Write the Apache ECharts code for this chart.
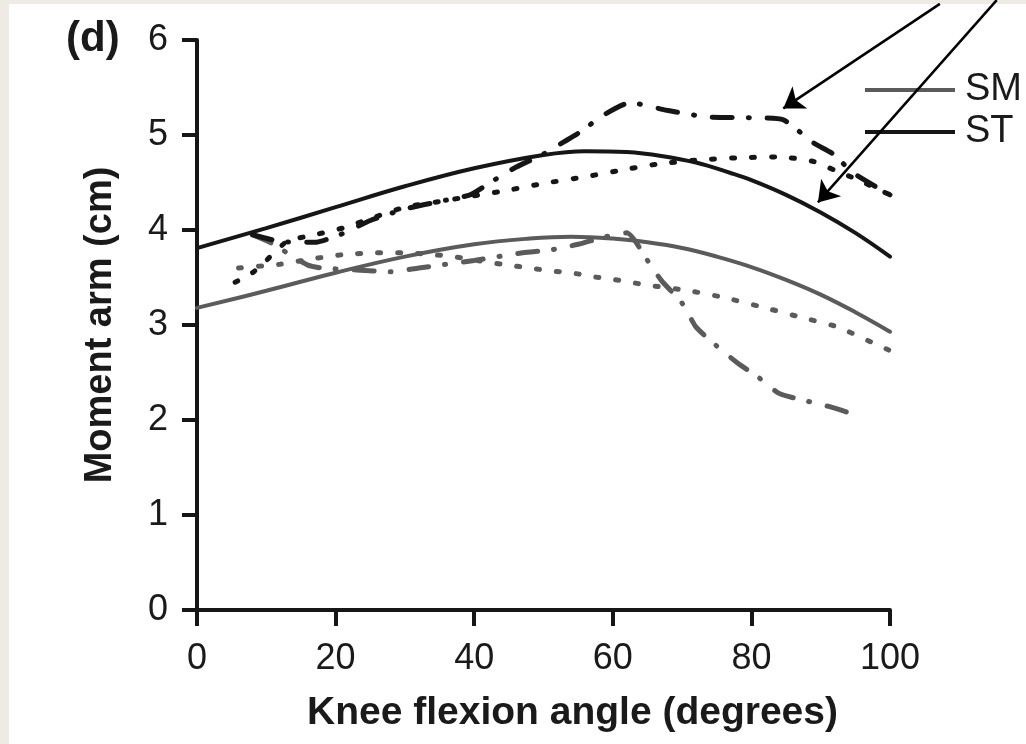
<!DOCTYPE html>
<html>
<head>
<meta charset="utf-8">
<script src="https://cdn.jsdelivr.net/npm/echarts@6/dist/echarts.min.js"></script>
<style>
html, body { margin: 0; padding: 0; background: #eeebe4; }
#paper { position: absolute; left: 9px; top: 4px; width: 1017px; height: 740px; background: #fff; }
#chart { position: absolute; left: 0; top: 0; width: 1026px; height: 744px; }
</style>
</head>
<body>
<div id="paper"></div>
<div id="chart"></div>
<script>
// knee flexion angle (deg) vs moment arm (cm)
const smFit = [[0, 3.18], [10, 3.36], [20, 3.55], [30, 3.72], [40, 3.85], [48, 3.91], [54, 3.93],
    [60, 3.91], [65, 3.87], [70, 3.81], [75, 3.72], [80, 3.61], [85, 3.475], [90, 3.32], [95, 3.135], [100, 2.93]];
const stFit = [[0, 3.81], [10, 4.02], [20, 4.24], [30, 4.46], [40, 4.65], [50, 4.79], [56, 4.83],
    [62, 4.82], [67, 4.78], [72, 4.71], [77, 4.6], [80, 4.525], [85, 4.37], [90, 4.185], [95, 3.97], [100, 3.72]];
const stDashDot = [[8, 3.95], [12, 3.88], [17, 3.87], [20.6, 3.95], [25, 4.1], [30, 4.22], [35, 4.3],
    [39.4, 4.37], [42.3, 4.5], [46, 4.66], [50, 4.8], [53, 4.93], [55.7, 5.05], [58.2, 5.19], [62.5, 5.34],
    [67.8, 5.26], [73.6, 5.19], [81, 5.18], [84.6, 5.16], [88.9, 4.92], [91.8, 4.8], [94.7, 4.6], [100, 4.37]];
const stDotted = [[5.5, 3.45], [8, 3.55], [10, 3.68], [13, 3.88], [17, 3.95], [21, 4.02], [25, 4.12],
    [30, 4.24], [35, 4.3], [40, 4.36], [45, 4.42], [50, 4.49], [56, 4.56], [62, 4.64], [67, 4.7],
    [73, 4.74], [78, 4.76], [84, 4.77], [89, 4.72], [92, 4.63], [95, 4.54], [100, 4.37]];
const smDashDot = [[8, 3.95], [10.8, 3.86], [13.4, 3.74], [16, 3.63], [18, 3.6], [23, 3.58], [28, 3.56],
    [32, 3.6], [40, 3.68], [47, 3.76], [51, 3.79], [55, 3.85], [59, 3.93], [62, 3.97], [65, 3.68],
    [67, 3.47], [70, 3.23], [72, 2.98], [74.5, 2.81], [78, 2.6], [81, 2.45], [84, 2.28], [87.4, 2.21],
    [91.3, 2.14], [95.2, 2.05]];
const smDotted = [[6, 3.6], [12, 3.64], [17, 3.7], [21, 3.74], [26, 3.76], [30, 3.76], [34, 3.74],
    [37, 3.72], [42, 3.66], [45, 3.63], [48, 3.6], [51, 3.57], [54, 3.55], [57, 3.51], [60, 3.48],
    [62.5, 3.45], [65, 3.42], [71, 3.36], [76, 3.29], [81.5, 3.19], [86.7, 3.09], [92.4, 2.98],
    [97.6, 2.81], [100, 2.73]];
// annotation arrows, from -> to, in data units
const arrows = [[[107.2, 6.38], [84.6, 5.28]], [[115.4, 6.42], [89.6, 4.29]]];

const gray = '#5b5b5b';
const black = '#161616';
const dotted = [3, 17];
const dashDot = [20, 16, 1, 18];

function curve(name, data, color, dash, smooth) {
    return {
        type: 'line',
        name: name,
        data: data,
        symbol: 'none',
        smooth: smooth,
        clip: false,
        lineStyle: {
            color: color,
            width: dash ? 5 : 4,
            type: dash || 'solid',
            cap: 'round'
        },
        itemStyle: { color: color },
        z: dash ? 2 : 3
    };
}

const chart = echarts.init(document.getElementById('chart'));
chart.setOption({
    animation: false,
    textStyle: { fontFamily: 'Liberation Sans, Arial, sans-serif', color: '#1a1a1a' },
    title: {
        text: '(d)',
        left: 66,
        top: 18,
        padding: 0,
        textStyle: { fontSize: 42, fontWeight: 'bold', color: '#1a1a1a' }
    },
    legend: {
        data: ['SM', 'ST'],
        orient: 'vertical',
        left: 865,
        top: 69,
        padding: 0,
        itemGap: 0,
        itemWidth: 90,
        itemHeight: 4,
        icon: 'rect',
        textStyle: { fontSize: 38, lineHeight: 42, color: '#1a1a1a', padding: [0, 0, 0, 5] }
    },
    grid: { left: 197, right: 136, top: 40, bottom: 134 },
    xAxis: {
        type: 'value',
        min: 0,
        max: 100,
        interval: 20,
        name: 'Knee flexion angle (degrees)',
        nameLocation: 'middle',
        nameGap: 84,
        nameTextStyle: { fontSize: 39, fontWeight: 'bold', color: '#1a1a1a', padding: [0, 0, 0, 58] },
        axisLine: { lineStyle: { color: black, width: 4 } },
        axisTick: { length: 16, lineStyle: { color: black, width: 4 } },
        axisLabel: { fontSize: 36, margin: 31, color: '#1a1a1a' },
        splitLine: { show: false }
    },
    yAxis: {
        type: 'value',
        min: 0,
        max: 6,
        interval: 1,
        name: 'Moment arm (cm)',
        nameLocation: 'middle',
        nameGap: 77,
        nameTextStyle: { fontSize: 38, fontWeight: 'bold', color: '#1a1a1a' },
        axisLine: { show: true, lineStyle: { color: black, width: 4 } },
        axisTick: { show: true, length: 15, lineStyle: { color: black, width: 4 } },
        axisLabel: { fontSize: 36, margin: 29, color: '#1a1a1a' },
        splitLine: { show: false }
    },
    series: [
        curve('SM dotted', smDotted, gray, dotted, 0.2),
        curve('SM dash-dot', smDashDot, gray, dashDot, 0.2),
        curve('ST dotted', stDotted, black, dotted, 0.2),
        curve('ST dash-dot', stDashDot, black, dashDot, 0.2),
        curve('SM', smFit, gray, null, 0.4),
        curve('ST', stFit, black, null, 0.4),
        {
            type: 'lines',
            name: 'arrows',
            coordinateSystem: 'cartesian2d',
            clip: false,
            silent: true,
            symbol: ['none', 'arrow'],
            symbolSize: 20,
            lineStyle: { color: '#000', width: 2.5, opacity: 1, curveness: 0 },
            data: arrows.map(a => ({ coords: a })),
            z: 5
        }
    ]
});
</script>
</body>
</html>
